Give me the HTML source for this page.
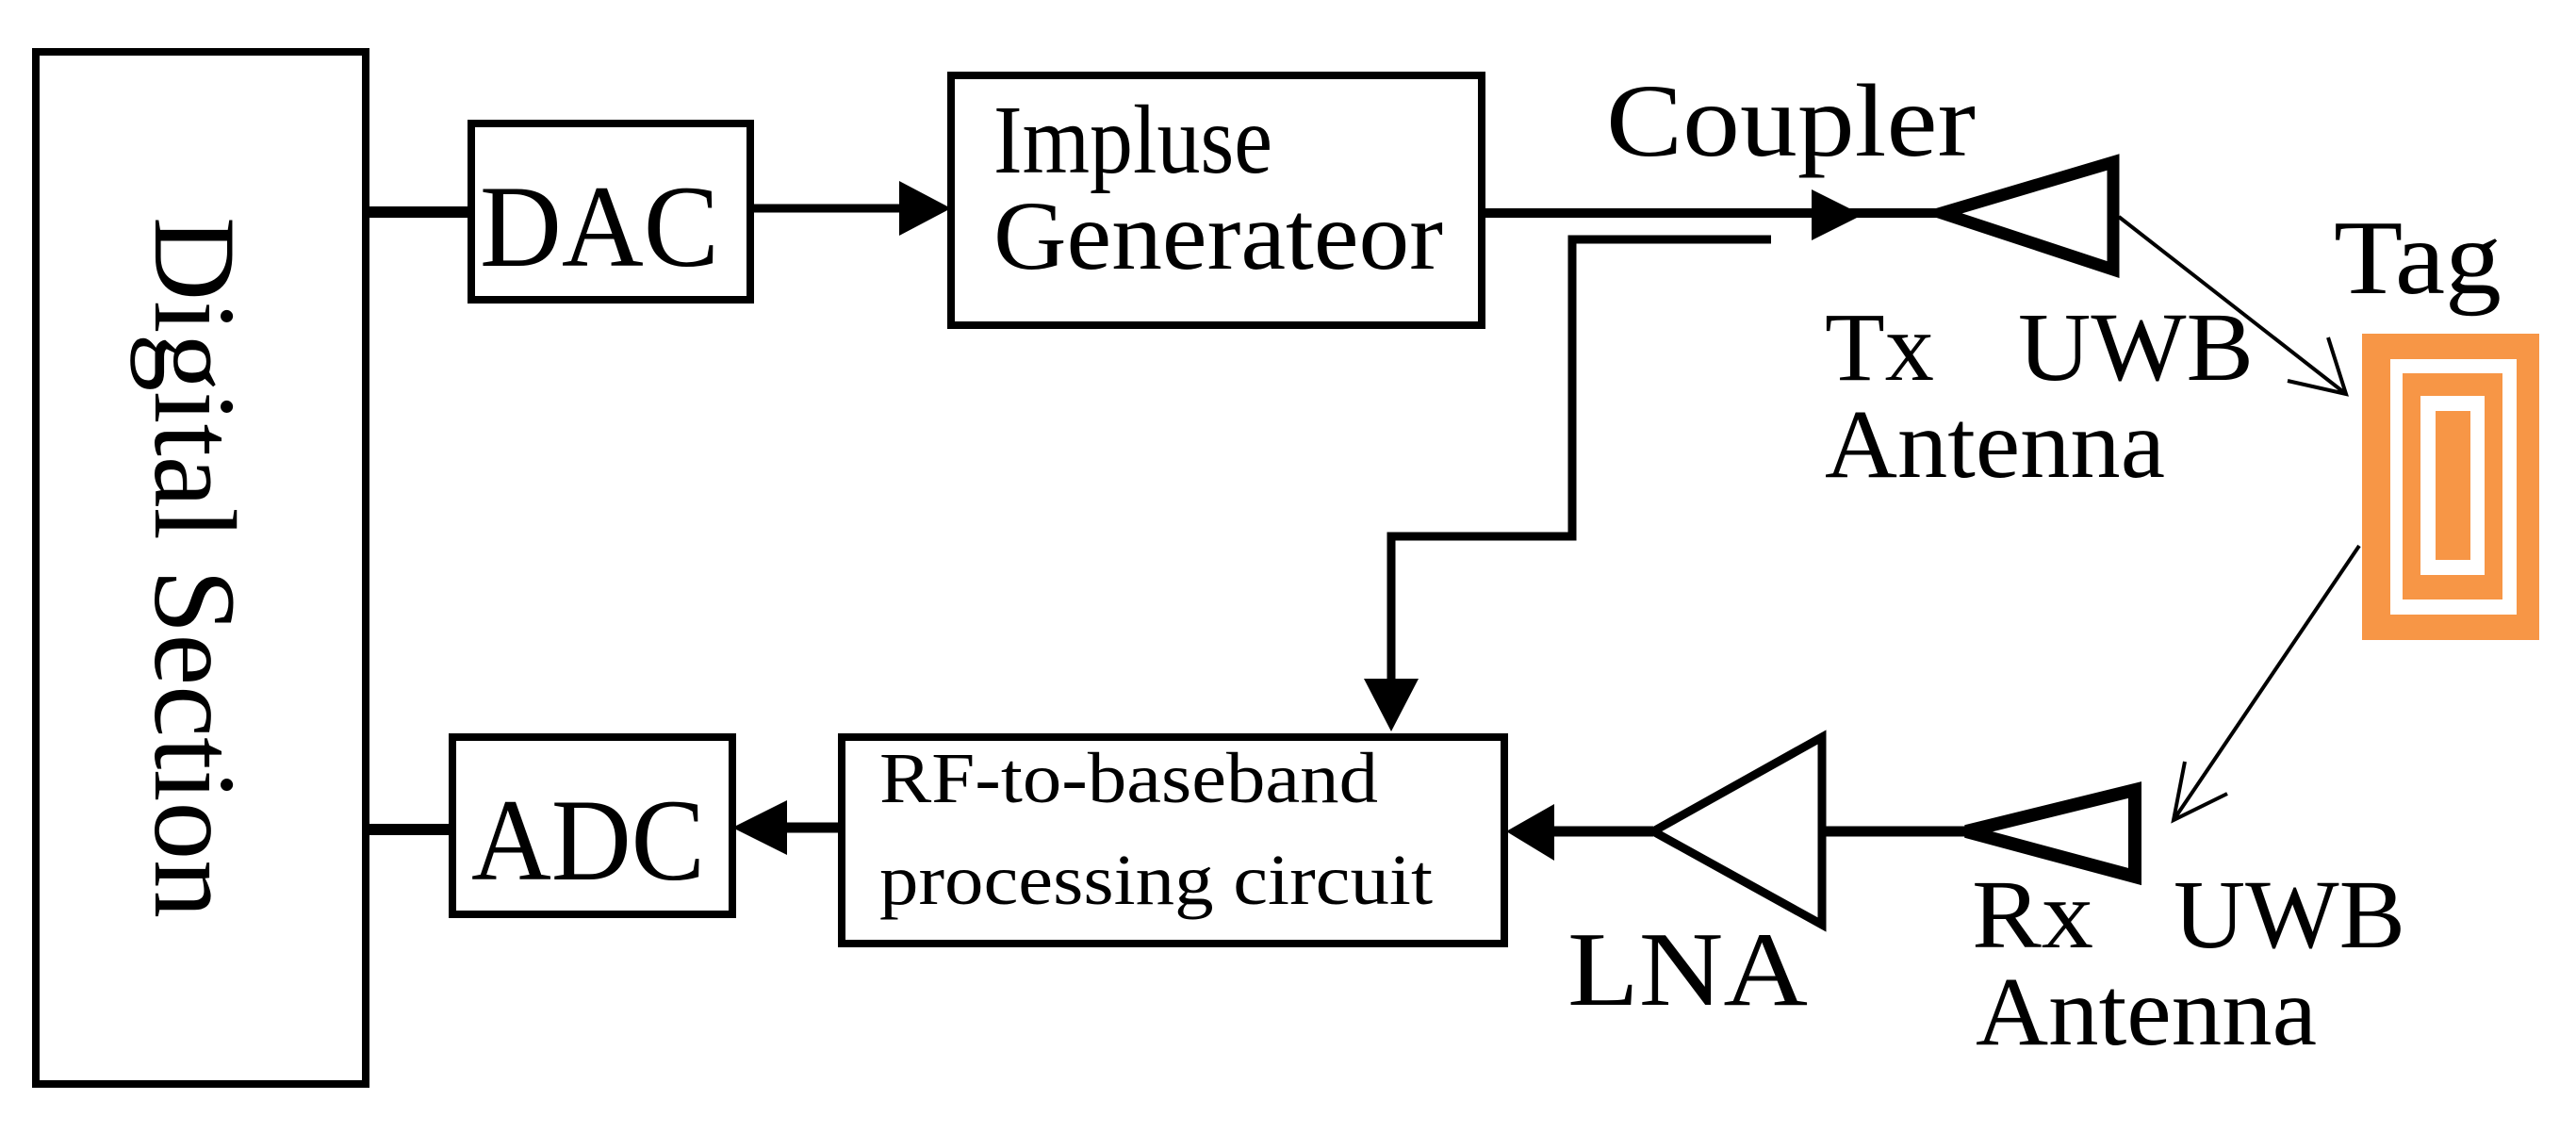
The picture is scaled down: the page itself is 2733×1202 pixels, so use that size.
<!DOCTYPE html>
<html><head><meta charset="utf-8"><style>
html,body{margin:0;padding:0;background:#fff}
svg{display:block}
</style></head><body>
<svg width="2733" height="1202" viewBox="0 0 2733 1202" xmlns="http://www.w3.org/2000/svg">
<g fill="none" stroke="#000">
<rect x="38" y="55" width="350" height="1095" stroke-width="8"/>
<rect x="500" y="131" width="296" height="187" stroke-width="8"/>
<line x1="388" y1="225" x2="500" y2="225" stroke-width="12"/>
<line x1="796" y1="221" x2="960" y2="221" stroke-width="9"/>
<rect x="1009" y="80" width="563" height="265" stroke-width="8"/>
<line x1="1572" y1="226" x2="2060" y2="226" stroke-width="10"/>
<polyline points="1879,254 1668,254 1668,569 1476,569 1476,725" stroke-width="9"/>
<polygon points="2060,226 2242,172 2242,286" stroke-width="13"/>
<line x1="2248" y1="230" x2="2489" y2="418" stroke-width="4"/>
<polyline points="2470,358 2489,418 2427,404" stroke-width="4"/>
<line x1="2503" y1="579" x2="2306" y2="870" stroke-width="4"/>
<polyline points="2318,808 2306,870 2363,842" stroke-width="4"/>
<polygon points="2086,882 2265,838 2265,930" stroke-width="14"/>
<line x1="1933" y1="882" x2="2086" y2="882" stroke-width="11"/>
<polygon points="1754,882 1933,782 1933,981" stroke-width="9"/>
<line x1="1640" y1="882" x2="1754" y2="882" stroke-width="11"/>
<rect x="893" y="782" width="703" height="219" stroke-width="8"/>
<rect x="480" y="782" width="297" height="188" stroke-width="8"/>
<line x1="830" y1="878" x2="893" y2="878" stroke-width="11"/>
<line x1="388" y1="880" x2="480" y2="880" stroke-width="12"/>
</g>
<g fill="#000">
<polygon points="1009,221 954,192 954,250"/>
<polygon points="1976,228 1922,201 1922,255"/>
<polygon points="1476,776 1447,720 1505,720"/>
<polygon points="1598,882 1649,853 1649,913"/>
<polygon points="777,878 835,849 835,907"/>
</g>
<rect x="2506" y="354" width="188" height="325" fill="#F79646"/>
<rect x="2536" y="381" width="134" height="271" fill="#fff"/>
<rect x="2549" y="396" width="106" height="240" fill="#F79646"/>
<rect x="2568" y="420" width="68" height="190" fill="#fff"/>
<rect x="2584" y="436" width="37" height="158" fill="#F79646"/>
<g font-family="'Liberation Serif','Times New Roman',Times,serif" fill="#000" lengthAdjust="spacingAndGlyphs">
<text x="509" y="282" font-size="124" textLength="254" lengthAdjust="spacingAndGlyphs">DAC</text>
<text x="500" y="933" font-size="124" textLength="248" lengthAdjust="spacingAndGlyphs">ADC</text>
<text x="1054" y="183" font-size="104" textLength="296" lengthAdjust="spacingAndGlyphs">Impluse</text>
<text x="1054" y="285" font-size="104" textLength="477" lengthAdjust="spacingAndGlyphs">Generateor</text>
<text x="1704" y="165" font-size="110" textLength="392" lengthAdjust="spacingAndGlyphs">Coupler</text>
<text x="2476" y="311" font-size="112" textLength="178" lengthAdjust="spacingAndGlyphs">Tag</text>
<text x="1936" y="403" font-size="104" textLength="116" lengthAdjust="spacingAndGlyphs">Tx</text>
<text x="2141" y="403" font-size="104" textLength="250" lengthAdjust="spacingAndGlyphs">UWB</text>
<text x="1936" y="506" font-size="104" textLength="361" lengthAdjust="spacingAndGlyphs">Antenna</text>
<text x="2092" y="1005" font-size="104" textLength="129" lengthAdjust="spacingAndGlyphs">Rx</text>
<text x="2306" y="1005" font-size="104" textLength="246" lengthAdjust="spacingAndGlyphs">UWB</text>
<text x="2096" y="1108" font-size="104" textLength="362" lengthAdjust="spacingAndGlyphs">Antenna</text>
<text x="1663" y="1066" font-size="112" textLength="255" lengthAdjust="spacingAndGlyphs">LNA</text>
<text x="933" y="851" font-size="76" textLength="529" lengthAdjust="spacingAndGlyphs">RF-to-baseband</text>
<text x="933" y="959" font-size="76" textLength="587" lengthAdjust="spacingAndGlyphs">processing circuit</text>
<text transform="translate(165,602) rotate(90)" text-anchor="middle" font-size="124" textLength="744" lengthAdjust="spacingAndGlyphs">Digital Section</text>
</g>
</svg>
</body></html>
